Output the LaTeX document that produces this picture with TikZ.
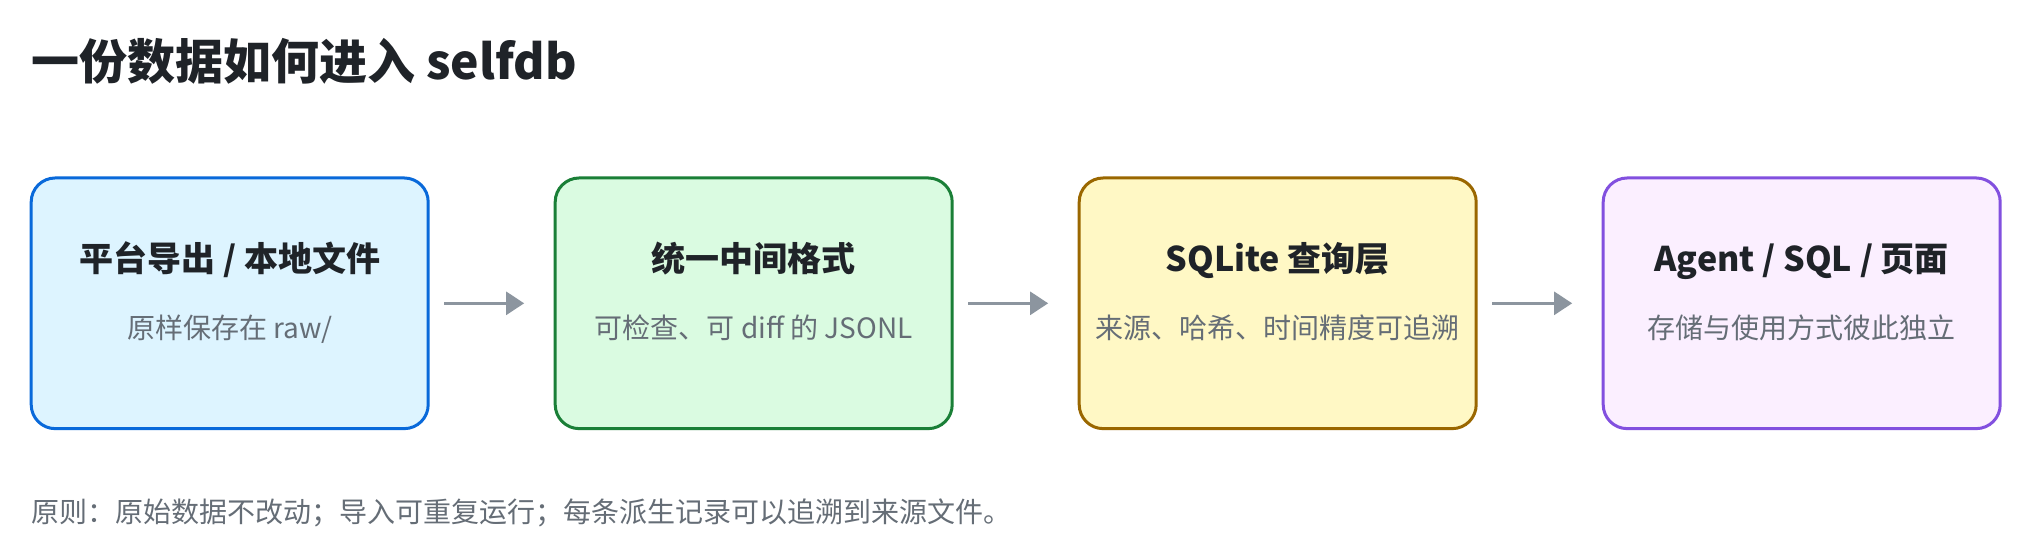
\documentclass[tikz,border=0pt]{standalone}
\usepackage{fontspec}
\setmainfont{Noto Sans CJK SC}
\usetikzlibrary{arrows.meta}
\definecolor{ink}{HTML}{1F2328}
\definecolor{muted}{HTML}{656D76}
\definecolor{arrowgray}{HTML}{8C959F}
\definecolor{blueline}{HTML}{0969DA}
\definecolor{bluefill}{HTML}{DDF4FF}
\definecolor{greenline}{HTML}{1A7F37}
\definecolor{greenfill}{HTML}{DAFBE1}
\definecolor{yellowline}{HTML}{9A6700}
\definecolor{yellowfill}{HTML}{FFF8C5}
\definecolor{purpleline}{HTML}{8250DF}
\definecolor{purplefill}{HTML}{FBEFFF}
\begin{document}
\begin{tikzpicture}[x=0.75pt,y=-0.75pt,
  box/.style={draw, line width=2.25pt, rounded corners=18pt, minimum width=297.75pt, minimum height=188pt, inner sep=0pt, outer sep=0pt},
  headtext/.style={anchor=base, text=ink, inner sep=0pt, font=\bfseries\fontsize{25.5pt}{30pt}\selectfont},
  subtext/.style={anchor=base, text=muted, inner sep=0pt, font=\fontsize{21pt}{25pt}\selectfont},
  flow/.style={draw=arrowgray, line width=2.6pt, -{Triangle[length=13.5pt,width=17pt]}, shorten <=12pt, shorten >=23.25pt}
]
\useasboundingbox[fill=white] (0,0) rectangle (2021,554);

\node[anchor=base west, inner sep=0pt, text=ink, font=\bfseries\fontsize{36pt}{42pt}\selectfont] (title) at (31,79) {一份数据如何进入 selfdb};

\node[box, draw=blueline, fill=bluefill] (b1) at (229.7,303.3) {};
\node[box, draw=greenline, fill=greenfill] (b2) at (753.7,303.3) {};
\node[box, draw=yellowline, fill=yellowfill] (b3) at (1277.7,303.3) {};
\node[box, draw=purpleline, fill=purplefill] (b4) at (1801.7,303.3) {};

\node[headtext] (h1) at (229.7,271) {平台导出 / 本地文件};
\node[subtext] (s1) at (229.7,338.5) {原样保存在 raw/};
\node[headtext] (h2) at (753.7,271) {统一中间格式};
\node[subtext] (s2) at (753.7,338.5) {可检查、可 diff 的 JSONL};
\node[headtext] (h3) at (1277.7,271) {SQLite 查询层};
\node[subtext] (s3) at (1277.7,338.5) {来源、哈希、时间精度可追溯};
\node[headtext] (h4) at (1801.7,271) {Agent / SQL / 页面};
\node[subtext] (s4) at (1801.7,338.5) {存储与使用方式彼此独立};

\draw[flow] (b1.east) -- (b2.west);
\draw[flow] (b2.east) -- (b3.west);
\draw[flow] (b3.east) -- (b4.west);

\node[anchor=base west, inner sep=0pt, text=muted, font=\fontsize{21pt}{25pt}\selectfont] (note) at (31,522) {原则：原始数据不改动；导入可重复运行；每条派生记录可以追溯到来源文件。};
\end{tikzpicture}
\end{document}
